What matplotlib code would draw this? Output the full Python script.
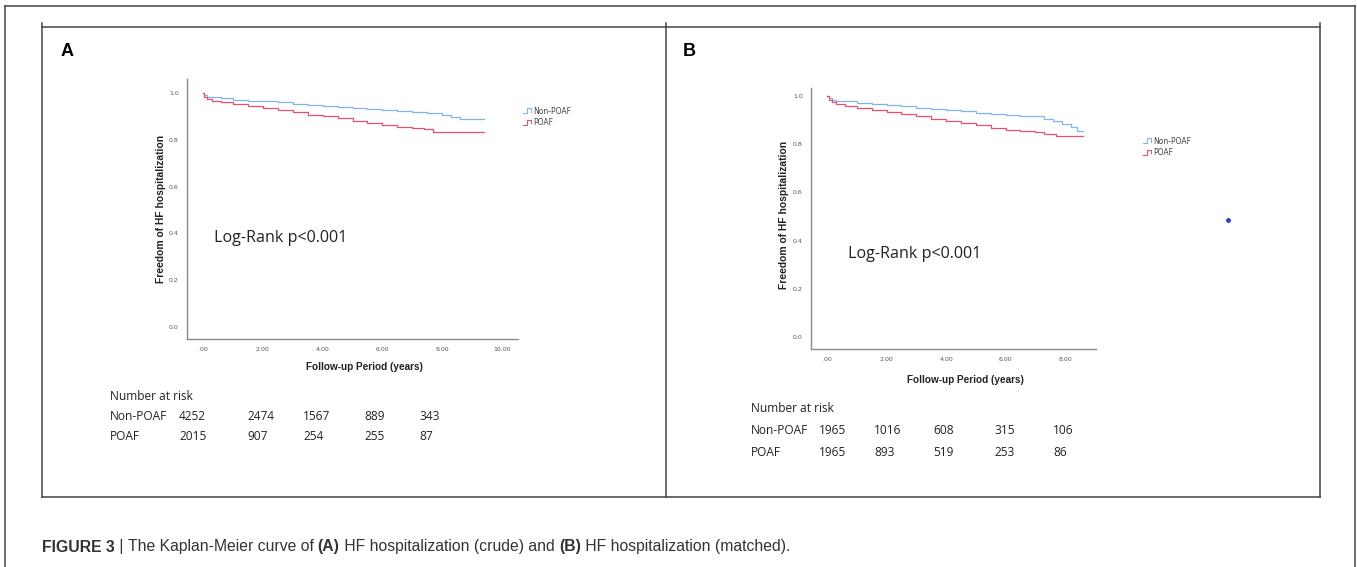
import matplotlib
matplotlib.use('Agg')
import matplotlib.pyplot as plt
from matplotlib.lines import Line2D
from matplotlib.legend_handler import HandlerBase

W, H = 1357, 567

# ---- data ----
groups = ['Non-POAF', 'POAF']

a_t_non = [0, 0.05, 0.15, 0.3, 0.6, 1.0, 1.5, 2.0, 2.5, 3.0, 3.5, 4.0, 4.5, 5.0, 5.5, 6.0, 6.5, 7.0, 7.5, 8.0, 8.3, 8.6, 9.0, 9.4]
a_s_non = [1.0, 0.99, 0.985, 0.981, 0.977, 0.972, 0.968, 0.964, 0.96, 0.955, 0.951, 0.946, 0.942, 0.938, 0.933, 0.928, 0.924, 0.92, 0.915, 0.906, 0.897, 0.889, 0.887, 0.887]
a_t_poaf = [0, 0.05, 0.15, 0.3, 0.6, 1.0, 1.5, 2.0, 2.5, 3.0, 3.5, 4.0, 4.5, 5.0, 5.5, 6.0, 6.5, 7.0, 7.4, 7.7, 8.5, 9.4]
a_s_poaf = [1.0, 0.985, 0.975, 0.968, 0.96, 0.952, 0.944, 0.935, 0.927, 0.918, 0.908, 0.9, 0.892, 0.882, 0.872, 0.862, 0.857, 0.852, 0.845, 0.832, 0.832, 0.832]

b_t_non = [0, 0.05, 0.15, 0.3, 0.6, 1.0, 1.5, 2.0, 2.5, 3.0, 3.5, 4.0, 4.5, 5.0, 5.5, 6.0, 6.5, 7.0, 7.3, 7.6, 7.9, 8.2, 8.4, 8.6]
b_s_non = [1.0, 0.99, 0.985, 0.981, 0.977, 0.972, 0.968, 0.963, 0.958, 0.952, 0.947, 0.941, 0.936, 0.931, 0.925, 0.92, 0.918, 0.915, 0.905, 0.895, 0.885, 0.87, 0.855, 0.855]
b_t_poaf = [0, 0.05, 0.15, 0.3, 0.6, 1.0, 1.5, 2.0, 2.5, 3.0, 3.5, 4.0, 4.5, 5.0, 5.5, 6.0, 6.5, 7.0, 7.3, 7.7, 8.6]
b_s_poaf = [1.0, 0.985, 0.975, 0.968, 0.96, 0.952, 0.943, 0.934, 0.925, 0.916, 0.906, 0.897, 0.888, 0.878, 0.868, 0.86, 0.855, 0.85, 0.842, 0.833, 0.833]

a_risk_non = ['4252', '2474', '1567', '889', '343']
a_risk_poaf = ['2015', '907', '254', '255', '87']
b_risk_non = ['1965', '1016', '608', '315', '106']
b_risk_poaf = ['1965', '893', '519', '253', '86']

x_ticks = [0, 2, 4, 6, 8, 10]
x_labels = ['.00', '2.00', '4.00', '6.00', '8.00', '10.00']
y_ticks = [0, 0.2, 0.4, 0.6, 0.8, 1.0]
y_labels = ['0.0', '0.2', '0.4', '0.6', '0.8', '1.0']

BLUE = '#82b4ea'
RED = '#e8506f'
TXT = '#222222'
SANS = ['Open Sans', 'DejaVu Sans']


def fx(px):
    return px / W


def fy(py):
    return 1 - py / H


class HandlerStep(HandlerBase):
    def create_artists(self, legend, orig, xd, yd, w, h, fontsize, trans):
        xs = [xd, xd + w * 0.45, xd + w * 0.45, xd + w, xd + w]
        ys = [yd + h * 0.1, yd + h * 0.1, yd + h * 0.9, yd + h * 0.9, yd + h * 0.3]
        ln = Line2D(xs, ys, color=orig.get_color(), lw=0.8, transform=trans)
        return [ln]


fig = plt.figure(figsize=(W / 100, H / 100), dpi=100)

# frames
frame = dict(color='#444444', lw=1.1, transform=fig.transFigure)
fig.add_artist(Line2D([fx(5), fx(1355)], [fy(6), fy(6)], **frame))
fig.add_artist(Line2D([fx(5), fx(5)], [fy(6), fy(567)], **frame))
fig.add_artist(Line2D([fx(1355), fx(1355)], [fy(6), fy(567)], **frame))
fig.add_artist(Line2D([fx(42), fx(1320)], [fy(27), fy(27)], **frame))
fig.add_artist(Line2D([fx(42), fx(1320)], [fy(497), fy(497)], **frame))
for xp in [42, 666, 1320]:
    fig.add_artist(Line2D([fx(xp), fx(xp)], [fy(23), fy(497)], **frame))


def panel(box, xlim, ylim, curves, letter, letter_xy, lr_xy, leg_xy, ylab_xy, xlab_y, risk, risk_x, risk_cols, risk_y):
    l, t, r, b = box
    ax = fig.add_axes([fx(l), fy(b), fx(r - l), fy(t) - fy(b)])
    for (tt, ss), c, g in zip(curves, [BLUE, RED], groups):
        ax.step(tt, ss, where='post', color=c, lw=0.9, label=g)
    ax.set_xlim(*xlim)
    ax.set_ylim(*ylim)
    for s in ['top', 'right']:
        ax.spines[s].set_visible(False)
    for s in ['left', 'bottom']:
        ax.spines[s].set_color('#8a8a8a')
        ax.spines[s].set_linewidth(1.0)
    xt = [v for v in x_ticks if v <= xlim[1]]
    ax.set_xticks(xt)
    ax.set_xticklabels(x_labels[:len(xt)])
    ax.set_yticks(y_ticks)
    ax.set_yticklabels(y_labels)
    ax.tick_params(length=0, labelsize=4.5, labelcolor='#555555', pad=6)
    ax.patch.set_visible(False)

    fig.text(fx(ylab_xy[0]), fy(ylab_xy[1]), 'Freedom of HF hospitalization', rotation=90,
             ha='center', va='center', fontsize=7.4, fontweight='bold', family='Liberation Sans', color=TXT)
    fig.text(fx((l + r) / 2 + 12), fy(xlab_y), 'Follow-up Period (years)', ha='center', va='center',
             fontsize=7.2, fontweight='bold', family='Liberation Sans', color=TXT)
    fig.text(fx(letter_xy[0]), fy(letter_xy[1]), letter, ha='left', va='center', fontsize=13,
             fontweight='bold', family='Liberation Sans', color='black')
    fig.text(fx(lr_xy[0]), fy(lr_xy[1]), 'Log-Rank p<0.001', ha='left', va='center', fontsize=11.6,
             family=SANS, color=TXT)

    ax.legend(handler_map={Line2D: HandlerStep()}, loc='upper left',
              bbox_to_anchor=(fx(leg_xy[0]), fy(leg_xy[1])), bbox_transform=fig.transFigure,
              frameon=False, fontsize=5.5, handlelength=1.1, handleheight=0.8, handletextpad=0.3,
              labelspacing=0.35, borderpad=0, labelcolor='#444444')

    fig.text(fx(risk_x), fy(risk_y[0]), 'Number at risk', ha='left', va='center', fontsize=8.6, family=SANS, color=TXT)
    for row, name, yp in zip(risk, groups, risk_y[1:]):
        fig.text(fx(risk_x), fy(yp), name, ha='left', va='center', fontsize=8.6, family=SANS, color=TXT)
        for v, xp in zip(row, risk_cols):
            fig.text(fx(xp), fy(yp), v, ha='left', va='center', fontsize=8.6, family=SANS, color=TXT)
    return ax


panel((187, 79, 518, 339), (-0.53, 10.53), (-0.051, 1.06),
      [(a_t_non, a_s_non), (a_t_poaf, a_s_poaf)], 'A', (61, 52), (214, 238), (519, 103),
      (161, 209), 367, [a_risk_non, a_risk_poaf], 110, [179, 247, 303, 364, 419], [397, 417, 437])

panel((811, 88, 1096, 349), (-0.54, 9.04), (-0.05, 1.033),
      [(b_t_non, b_s_non), (b_t_poaf, b_s_poaf)], 'B', (683, 52), (848, 254), (1139, 133),
      (784, 215), 380, [b_risk_non, b_risk_poaf], 751, [819, 874, 933, 994, 1053], [409, 431, 452])

# stray dot in panel B
fig.add_artist(Line2D([fx(1228)], [fy(220)], marker='o', ms=2.5, color='#2a3fd0', lw=0,
                      transform=fig.transFigure))

# caption, drawn piece by piece
pieces = [('FIGURE 3', 'bold'), (' | ', 'normal'), ('The Kaplan-Meier curve of ', 'normal'), ('(A)', 'bold'),
          (' HF hospitalization (crude) and ', 'normal'), ('(B)', 'bold'), (' HF hospitalization (matched).', 'normal')]
fig.canvas.draw()
rend = fig.canvas.get_renderer()
xcur = 42
for txt, wt in pieces:
    tx = fig.text(fx(xcur), fy(547), txt, ha='left', va='center', fontsize=11.3, fontweight=wt,
                  family=['Liberation Sans Narrow', 'Liberation Sans'], color='#333333')
    bb = tx.get_window_extent(renderer=rend)
    xcur += bb.width

fig.savefig('out.png', dpi=100)
